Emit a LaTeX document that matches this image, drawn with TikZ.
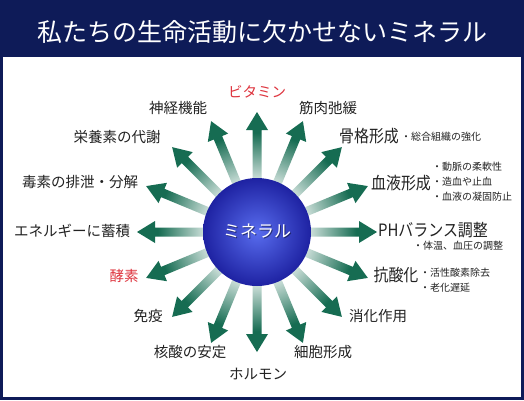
\documentclass[tikz,border=0pt]{standalone}
\usepackage{fontspec}
\setmainfont{Noto Sans CJK JP}
\newfontfamily\jpw[FakeStretch=0.88]{Noto Sans CJK JP}
\definecolor{navy}{RGB}{14,27,88}
\definecolor{navymid}{RGB}{48,78,170}
\definecolor{navyhi}{RGB}{120,150,220}
\definecolor{arrgreen}{RGB}{22,108,82}
\definecolor{txt}{RGB}{34,34,34}
\definecolor{redtxt}{RGB}{222,52,62}
\definecolor{ballin}{RGB}{88,108,238}
\definecolor{ballout}{RGB}{30,34,162}
\pgfdeclarehorizontalshading{arrowfade}{100bp}{color(0bp)=(white); color(25bp)=(white); color(62bp)=(arrgreen); color(100bp)=(arrgreen)}
\tikzset{
  lbl/.style={inner sep=0pt, text=txt, font=\fontsize{14.5}{15}\selectfont},
  redlbl/.style={lbl, text=redtxt},
  biglbl/.style={inner sep=0pt, text=txt, font=\jpw\fontsize{17}{17}\selectfont},
  small/.style={inner sep=0pt, text=txt, anchor=west, align=left, font=\fontsize{10}{15}\selectfont},
}
\newcommand{\radarrow}[1]{%
  \begin{scope}[transform canvas={shift={(257,232)}, rotate=#1}]
    \shade[shading=arrowfade] (40,-4.5) -- (102,-4.5) -- (102,-11) -- (120,0) -- (102,11) -- (102,4.5) -- (40,4.5) -- cycle;
  \end{scope}}
\begin{document}
\begin{tikzpicture}[x=1pt,y=-1pt]
\useasboundingbox (0,0) rectangle (524,400);
% frame and header
\fill[navy] (0,0) rectangle (524,400);
\shade[left color=navy, middle color=navymid, right color=navy] (0,0) rectangle (524,57);
\shade[left color=navy, middle color=navyhi, right color=navy] (60,0) rectangle (464,1.5);
\fill[white] (3,57) rectangle (521,397);
\node[inner sep=0pt, text=white, font=\fontsize{25}{25}\selectfont] (title) at (262,32) {私たちの生命活動に欠かせないミネラル};
% arrows
\foreach \a in {0,22.5,...,337.5} {\radarrow{\a}}
% sphere
\shade[inner color=ballin, outer color=ballout] (257,232) circle (54);
\node[inner sep=0pt, text=black, opacity=0.45, font=\fontsize{17}{17}\selectfont] (coreshadow) at (258.2,232.2) {ミネラル};
\node[inner sep=0pt, text=white, font=\fontsize{17}{17}\selectfont] (core) at (257,231) {ミネラル};
% labels
\node[redlbl] (vit) at (257,92) {ビタミン};
\node[lbl] (nerve) at (178,108) {神経機能};
\node[lbl] (nutr) at (117,137) {栄養素の代謝};
\node[lbl] (toxin) at (80,182) {毒素の排泄・分解};
\node[lbl] (energy) at (72,231) {エネルギーに蓄積};
\node[redlbl] (enzyme) at (124,276) {酵素};
\node[lbl] (immune) at (148,316) {免疫};
\node[lbl] (nucleic) at (190,352) {核酸の安定};
\node[lbl] (hormone) at (258,374) {ホルモン};
\node[lbl] (cell) at (323,352) {細胞形成};
\node[lbl] (digest) at (378,316) {消化作用};
\node[lbl] (muscle) at (328,108) {筋肉弛緩};
\node[biglbl] (bone) at (369,136) {骨格形成};
\node[small] (bonenote) at (401,137) {・総合組織の強化};
\node[biglbl] (blood) at (401,183) {血液形成};
\node[small] (bloodnote) at (432,182) {・動脈の柔軟性\\・造血や止血\\・血液の凝固防止};
\node[biglbl] (ph) at (433,230) {PHバランス調整};
\node[small] (phnote) at (413,246) {・体温、血圧の調整};
\node[biglbl] (anti) at (396,275) {抗酸化};
\node[small] (antinote) at (420,280.5) {・活性酸素除去\\・老化遅延};
\end{tikzpicture}
\end{document}
